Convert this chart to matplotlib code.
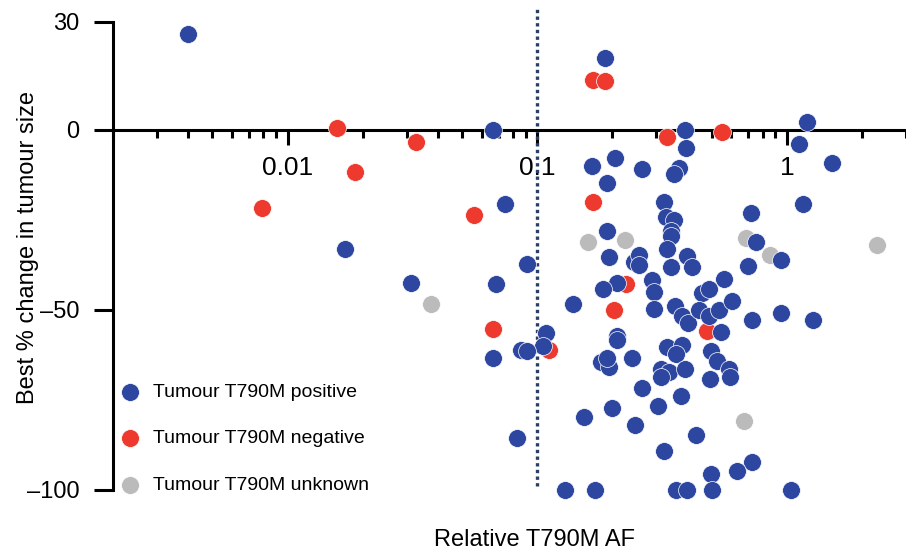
import matplotlib
matplotlib.use("Agg")
import matplotlib.pyplot as plt
from matplotlib.ticker import LogLocator, NullFormatter

plt.rcParams['font.family'] = ['Liberation Sans Narrow', 'Liberation Sans', 'DejaVu Sans']

############## Data ##################
# relative T790M allele fraction (log scale) and best % change in tumour size
pos_af = [0.00398, 0.187, 0.0667, 0.391, 1.202, 1.117, 1.514, 0.394, 0.205, 0.166,
          0.263, 0.370, 0.353, 0.191, 1.159, 0.0745, 0.322, 0.718, 0.752, 0.698,
          0.946, 0.560, 0.328, 0.353, 0.344, 0.344, 0.331, 0.398, 0.191, 0.194,
          0.244, 0.256, 0.256, 0.344, 0.417, 0.01706, 0.0313, 0.0912, 0.0686, 0.209,
          0.184, 0.288, 0.294, 0.139, 0.294, 0.356, 0.380, 0.402, 0.457, 0.488,
          0.445, 0.488, 0.535, 0.603, 0.724, 0.946, 1.27, 0.545, 0.1086, 0.1057,
          0.0863, 0.0912, 0.0667, 0.209, 0.209, 0.331, 0.380, 0.360, 0.497, 0.525,
          0.586, 0.592, 0.492, 0.180, 0.194, 0.191, 0.240, 0.313, 0.338, 0.313,
          0.391, 0.263, 0.377, 0.154, 0.1995, 0.305, 0.247, 0.0832, 0.433, 0.322,
          0.724, 0.631, 0.497, 0.129, 0.171, 0.360, 0.398, 0.501, 1.04]
pos_change = [26.6, 19.9, 0, 0, 2.2, -3.9, -9.1, -5.0, -7.8, -10.0,
              -10.8, -10.5, -12.2, -14.7, -20.5, -20.5, -19.9, -23.0, -31.0, -37.7,
              -36.0, -41.3, -24.1, -24.9, -28.0, -29.4, -33.0, -34.9, -28.0, -35.2,
              -36.6, -34.6, -37.4, -38.0, -38.0, -33.0, -42.4, -37.1, -42.7, -42.4,
              -44.3, -41.6, -44.9, -48.2, -49.6, -49.0, -51.8, -53.5, -45.2, -44.3,
              -49.9, -51.8, -49.9, -47.4, -52.9, -50.7, -52.9, -56.0, -56.5, -60.1,
              -61.2, -61.5, -63.4, -57.1, -58.4, -60.4, -59.6, -62.3, -61.5, -64.3,
              -66.5, -68.7, -69.3, -64.5, -65.7, -63.4, -63.2, -66.5, -67.3, -68.7,
              -66.5, -71.7, -74.0, -79.8, -77.3, -76.7, -82.0, -85.6, -84.8, -89.2,
              -92.2, -94.7, -95.6, -100, -100, -100, -100, -100, -100]

neg_af = [0.0158, 0.0328, 0.0187, 0.00787, 0.0560, 0.0667, 0.1117, 0.167, 0.187,
          0.331, 0.550, 0.167, 0.203, 0.227, 0.479]
neg_change = [0.6, -3.3, -11.6, -21.6, -23.5, -55.4, -61.2, 13.9, 13.6,
              -1.9, -0.6, -19.9, -49.9, -42.7, -55.7]

unk_af = [0.0377, 0.160, 0.2245, 0.685, 0.855, 2.29, 0.673]
unk_change = [-48.2, -31.0, -30.5, -29.9, -34.6, -31.9, -80.9]

x_ticks = [0.01, 0.1, 1]
x_labels = ['0.01', '0.1', '1']
y_ticks = [-100, -50, 0, 30]
y_labels = ['\u2013100', '\u201350', '0', '30']

############## Plot ##################
fig = plt.figure(figsize=(9.06, 5.54), dpi=100)
ax = fig.add_axes([113 / 906, 1 - 490 / 554, 793 / 906, 468 / 554])

ms = 165
unk = ax.scatter(unk_af, unk_change, s=ms, color='#BBBBBB', edgecolor='white',
                 linewidth=0.5, clip_on=False, zorder=3, label='Tumour T790M unknown')
neg = ax.scatter(neg_af, neg_change, s=ms, color='#EE3A2E', edgecolor='white',
                 linewidth=0.5, clip_on=False, zorder=4, label='Tumour T790M negative')
pos = ax.scatter(pos_af, pos_change, s=ms, color='#2D46A0', edgecolor='white',
                 linewidth=0.5, clip_on=False, zorder=5, label='Tumour T790M positive')

# threshold line at 0.1
ax.plot([0.1, 0.1], [-99, 33.5], color='#2B4064', lw=2.4, ls=(0, (1, 1)),
        clip_on=False, zorder=2)

ax.set_xscale('log')
ax.set_xlim(0.002, 3)
ax.set_ylim(-100, 30)

ax.spines['top'].set_visible(False)
ax.spines['right'].set_visible(False)
ax.spines['bottom'].set_position(('data', 0))
ax.spines['bottom'].set_linewidth(2.2)
ax.spines['left'].set_linewidth(2.2)

ax.set_xticks(x_ticks)
ax.set_xticklabels(x_labels)
ax.xaxis.set_minor_locator(LogLocator(base=10, subs=range(2, 10), numticks=20))
ax.xaxis.set_minor_formatter(NullFormatter())
ax.set_yticks(y_ticks)
ax.set_yticklabels(y_labels)

ax.tick_params(axis='x', which='major', length=11, width=2.2, pad=8, labelsize=19)
ax.tick_params(axis='x', which='minor', length=6, width=2.2)
ax.tick_params(axis='y', which='major', length=14, width=2.2, pad=10, labelsize=17)

fig.text(28 / 906, 1 - 247 / 554, 'Best % change in tumour size', rotation=90,
         ha='center', va='center', fontsize=17)
fig.text(535 / 906, 1 - 540 / 554, 'Relative T790M AF', ha='center', va='center',
         fontsize=17)

ax.legend(handles=[pos, neg, unk], loc='upper left',
          bbox_to_anchor=(120 / 906, 1 - 383 / 554), bbox_transform=fig.transFigure,
          frameon=False, fontsize=14, handlelength=1.0, handletextpad=0.7,
          labelspacing=1.5, borderpad=0, borderaxespad=0)

plt.savefig('out.png', dpi=100)
